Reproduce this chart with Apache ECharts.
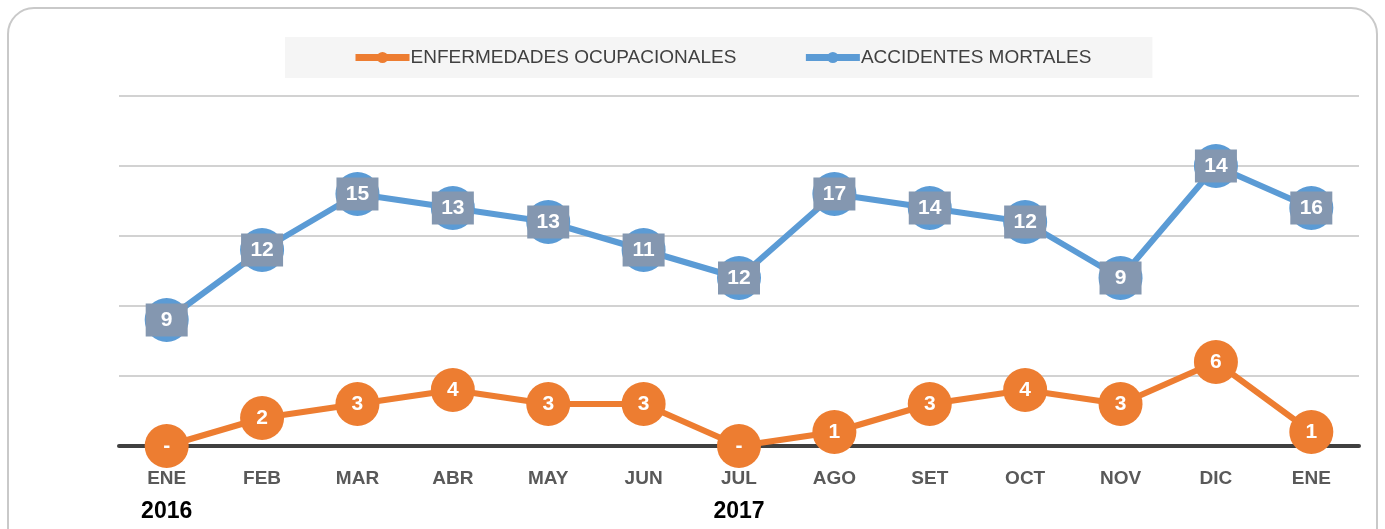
<!DOCTYPE html>
<html>
<head>
<meta charset="utf-8">
<script src="https://cdn.jsdelivr.net/npm/echarts@6/dist/echarts.min.js"></script>
<style>
  html, body { margin: 0; padding: 0; background: #fff; }
  #chart { width: 1385px; height: 529px; }
</style>
</head>
<body>
<div id="chart"></div>
<script>
var months = ['ENE', 'FEB', 'MAR', 'ABR', 'MAY', 'JUN', 'JUL', 'AGO', 'SET', 'OCT', 'NOV', 'DIC', 'ENE'];
var years = ['2016', '', '', '', '', '', '2017', '', '', '', '', '', ''];
var enfermedades = [0, 2, 3, 4, 3, 3, 0, 1, 3, 4, 3, 6, 1];
var accidentes = [9, 12, 15, 13, 13, 11, 12, 17, 14, 12, 9, 14, 16];

var myChart = echarts.init(document.getElementById('chart'));
var option = {
    backgroundColor: '#fff',
    animation: false,
    graphic: [{
        type: 'rect',
        shape: { x: 8, y: 8, width: 1369, height: 560, r: 26 },
        style: { fill: 'none', stroke: '#c9c9c9', lineWidth: 2 },
        z: -1
    }],
    legend: {
        left: 285,
        top: 37,
        backgroundColor: '#f5f5f5',
        padding: [11, 61, 11, 67],
        itemGap: 66,
        itemWidth: 54,
        itemHeight: 14,
        lineStyle: { width: 7 },
        textStyle: {
            color: '#404040',
            fontSize: 19,
            fontFamily: 'Liberation Sans Narrow, Liberation Sans, sans-serif',
            padding: [0, 0, 0, -4]
        },
        data: ['ENFERMEDADES OCUPACIONALES', 'ACCIDENTES MORTALES']
    },
    grid: { left: 119, right: 26, top: 96, bottom: 83 },
    xAxis: {
        type: 'category',
        data: months,
        axisLine: { lineStyle: { color: '#404040', width: 4 } },
        axisTick: { show: false },
        axisLabel: {
            margin: 20,
            interval: 0,
            formatter: function (v, i) {
                return '{m|' + v + '}\n{y|' + years[i] + '}';
            },
            rich: {
                m: { fontSize: 19, fontWeight: 'bold', color: '#595959', fontFamily: 'Liberation Sans, sans-serif', lineHeight: 26 },
                y: { fontSize: 23, fontWeight: 'bold', color: '#000', fontFamily: 'Liberation Sans, sans-serif', lineHeight: 40 }
            }
        }
    },
    yAxis: {
        type: 'value',
        min: 0,
        max: 25,
        interval: 5,
        axisLabel: { show: false },
        axisLine: { show: false },
        axisTick: { show: false },
        splitLine: { lineStyle: { color: '#c3c3c3', width: 1.5 } }
    },
    series: [{
        name: 'ENFERMEDADES OCUPACIONALES',
        type: 'line',
        stack: 'total',
        data: enfermedades,
        symbol: 'circle',
        symbolSize: 44,
        color: '#ed7d31',
        lineStyle: { width: 6, color: '#ed7d31' },
        itemStyle: { color: '#ed7d31' },
        z: 3,
        label: {
            show: true,
            position: 'inside',
            color: '#fff',
            fontSize: 21,
            fontWeight: 'bold',
            fontFamily: 'Liberation Sans, sans-serif',
            formatter: function (p) { return p.value === 0 ? '-' : p.value; }
        }
    }, {
        name: 'ACCIDENTES MORTALES',
        type: 'line',
        stack: 'total',
        data: accidentes,
        symbol: 'circle',
        symbolSize: 44,
        color: '#5b9bd5',
        lineStyle: { width: 6, color: '#5b9bd5' },
        itemStyle: { color: '#5b9bd5' },
        z: 2,
        label: {
            show: true,
            position: 'inside',
            color: '#fff',
            fontSize: 21,
            fontWeight: 'bold',
            fontFamily: 'Liberation Sans, sans-serif',
            backgroundColor: '#8497b0',
            padding: [7, 6, 5, 6],
            width: 30,
            align: 'center',
            formatter: '{c}'
        }
    }]
};
myChart.setOption(option);
</script>
</body>
</html>
